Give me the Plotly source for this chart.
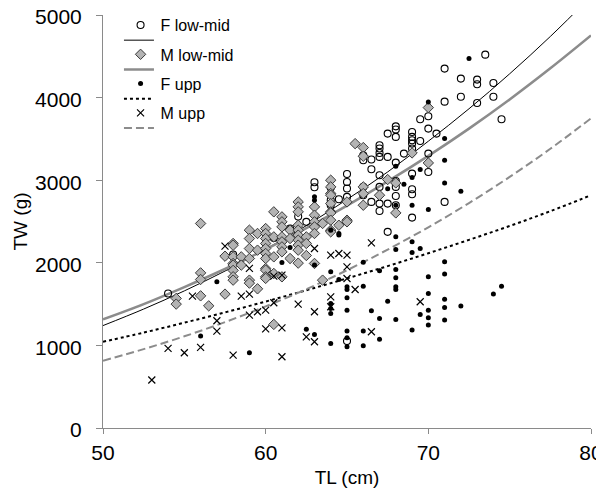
import plotly.graph_objects as go

# ---------------- data ----------------
f_lowmid_tl = [54, 58, 59, 60.5, 61.5, 62, 62.5,
               63, 63, 64, 64, 64, 64.5,
               65, 65, 65, 65, 65,
               66, 66, 66, 66, 66.5, 66.5, 66.5,
               67, 67, 67, 67, 67, 67, 67, 67,
               67.5, 67.5, 67.5, 67.5,
               68, 68, 68, 68, 68, 68, 68, 68, 68.5,
               69, 69, 69, 69, 69, 69, 69, 69, 69,
               69.5, 69.5, 70, 70, 70, 70, 70.5,
               71, 71, 71, 72, 72, 73, 73, 73, 73.5, 74, 74, 74.5]
f_lowmid_tw = [1629, 2100, 1770, 2300, 2415, 2560, 2496,
               2975, 2915, 2758, 2697, 2910, 2770,
               3075, 2979, 2899, 2798, 1052,
               3302, 3241, 2919, 2818, 3250, 3133, 2737,
               3423, 3383, 3330, 3282, 3060, 2919, 2717, 2627,
               3564, 3282, 2717, 2375,
               3652, 3613, 3524, 3213, 2990, 2919, 2808, 2697, 3322,
               3584, 3524, 3483, 3443, 3383, 3080, 2890, 2830, 2547,
               3737, 3475, 3774, 3625, 3322, 3100, 3564,
               4351, 3951, 2737, 4230, 4010, 4218, 4161, 3935, 4520, 4177, 4010, 3737]

m_lowmid_tl = [54.5, 54.5, 56, 56, 56, 56, 56.5, 57.5, 57.5,
               58, 58, 58, 58, 58, 58, 58, 58, 58.5, 58.5,
               59, 59, 59, 59, 59, 59, 59.5, 59.5, 59.5,
               60, 60, 60, 60, 60, 60, 60, 60, 60, 60, 60,
               60.5, 60.5, 60.5, 60.5, 60.5,
               61, 61, 61, 61, 61, 61, 61, 61, 61.5, 61.5, 61.5,
               62, 62, 62, 62, 62, 62, 62, 62, 62, 62,
               62.5, 62.5, 62.5, 63, 63, 63, 63, 63, 63, 63.5, 63.5,
               64, 64, 64, 64, 64, 64, 64, 64, 64, 64, 64.5,
               65, 65, 65, 65.5, 66, 66, 66, 66, 66, 67, 67.5, 68, 68, 69, 70, 70]
m_lowmid_tw = [1569, 1500, 2476, 1878, 1798, 1600, 1479, 2080, 1621,
               2234, 2213, 2072, 1992, 1972, 1908, 1831, 1790, 2072, 1972,
               2395, 2294, 2173, 2052, 1790, 1754, 2355, 2153, 1685,
               2415, 2355, 2294, 2234, 2173, 2113, 2052, 1931, 1911, 1830, 1811,
               2617, 2314, 2072, 1871, 1254,
               2556, 2496, 2435, 2314, 2254, 2193, 2133, 1830, 2395, 2294, 2052,
               2737, 2677, 2617, 2455, 2395, 2335, 2274, 2214, 2153, 1996,
               2314, 2234, 2088, 2677, 2576, 2496, 2435, 2355, 1992, 2476, 1790,
               3000, 2919, 2838, 2818, 2717, 2617, 2604, 2516, 2395, 2375, 2455,
               2737, 2516, 2496, 3443, 3395, 3290, 2919, 2838, 2697, 2818, 3008, 2967, 2604, 3330, 3879, 3209]

f_upp_tl = [56, 57, 59, 61, 61.5, 62.5, 63, 63, 63, 63,
            64, 64, 64, 64, 64, 64, 64.5, 64.5, 64.5,
            65, 65, 65, 65, 65, 65, 65, 66, 66, 66, 66, 66.5,
            67, 67, 67, 67.5, 67.5,
            68, 68, 68, 68, 68, 68, 68, 68, 68, 68.5,
            69, 69, 69, 69, 69, 69.5, 69.5, 69.5,
            70, 70, 70, 70, 70, 70, 70,
            71, 71, 71, 71, 71, 71, 71, 71,
            72, 72, 72.5, 74, 74.5]
f_upp_tw = [1113, 1770, 911, 2004, 2185, 1197, 1133, 2800, 2758, 1972,
            1024, 1508, 1448, 1387, 2395, 1891, 1798, 2355, 2336,
            1173, 1092, 983, 1677, 1576, 1427, 1709, 1173, 995, 1717, 2008, 1419,
            1073, 1327, 1903, 1536, 2896,
            1315, 1919, 1818, 1709, 1677, 2161, 2314, 3169, 2697, 2951,
            1185, 2254, 2125, 3032, 2697, 1375, 2173, 3129,
            1427, 1334, 1246, 1629, 1830, 3947, 2645,
            1560, 1460, 1306, 1863, 2012, 3504, 3241, 2967,
            1476, 2866, 4472, 1621, 1717]

m_upp_tl = [53, 54, 55, 55.5, 56, 57, 57, 57.5, 58, 58.5,
            59, 59, 59, 59.5, 60, 60, 60.5, 60.5, 61, 61, 61,
            62, 62.5, 63, 63, 63, 64, 64, 64, 64.5, 65, 65, 65, 65.5,
            66.5, 66.5, 69.5]
m_upp_tw = [581, 964, 911, 1597, 976, 1298, 1173, 2201, 883, 1597,
            1621, 1367, 1932, 1407, 1427, 1201, 1516, 1838, 863, 1213, 1850,
            1500, 1104, 1407, 1044, 2173, 2092, 1588, 1468, 2113, 2092, 1951, 1810, 1677,
            2241, 1165, 1528]

# fitted curves
curve_tl = [50, 52.5, 55, 57.5, 60, 62.5, 65, 67.5, 70, 72.5, 75, 77.5, 80]
f_lowmid_fit = [1240, 1440, 1660, 1900, 2166, 2450, 2767, 3100, 3472, 3865, 4288, 4740, 5225]
m_lowmid_fit = [1315, 1500, 1706, 1925, 2163, 2420, 2692, 2985, 3295, 3625, 3978, 4355, 4753]
f_upp_fit = [1044, 1155, 1275, 1400, 1531, 1668, 1811, 1960, 2116, 2278, 2446, 2625, 2818]
m_upp_fit = [814, 955, 1110, 1282, 1472, 1680, 1910, 2160, 2430, 2723, 3040, 3380, 3749]

x_ticks = [50, 60, 70, 80]
y_ticks = [0, 1000, 2000, 3000, 4000, 5000]

FONT = "Liberation Sans, Arial, sans-serif"
AXIS_GRAY = "#8a8a8a"

fig = go.Figure()

# fitted lines (legend2, unlabeled rows between the marker rows)
fig.add_trace(go.Scatter(x=curve_tl, y=f_lowmid_fit, mode="lines", name="",
                         line=dict(color="black", width=1, shape="spline"),
                         legend="legend2", legendgroup="l1"))
fig.add_trace(go.Scatter(x=curve_tl, y=m_lowmid_fit, mode="lines", name="",
                         line=dict(color="#8c8c8c", width=2.6, shape="spline"),
                         legend="legend2", legendgroup="l2"))
fig.add_trace(go.Scatter(x=curve_tl, y=f_upp_fit, mode="lines", name="",
                         line=dict(color="black", width=2, dash="dot", shape="spline"),
                         legend="legend2", legendgroup="l3"))
fig.add_trace(go.Scatter(x=curve_tl, y=m_upp_fit, mode="lines", name="",
                         line=dict(color="#8c8c8c", width=2, dash="8px,4px", shape="spline"),
                         legend="legend2", legendgroup="l4"))

# scatter series
fig.add_trace(go.Scatter(x=f_lowmid_tl, y=f_lowmid_tw, mode="markers", name="F low-mid",
                         marker=dict(symbol="circle-open", size=7, color="black",
                                     line=dict(width=1.1, color="black")),
                         legend="legend", legendgroup="m1"))
fig.add_trace(go.Scatter(x=m_lowmid_tl, y=m_lowmid_tw, mode="markers", name="M low-mid",
                         marker=dict(symbol="diamond", size=8, color="#b3b3b3",
                                     line=dict(width=1, color="#3a3a3a")),
                         legend="legend", legendgroup="m2"))
fig.add_trace(go.Scatter(x=f_upp_tl, y=f_upp_tw, mode="markers", name="F upp",
                         marker=dict(symbol="circle", size=5, color="black"),
                         legend="legend", legendgroup="m3"))
fig.add_trace(go.Scatter(x=m_upp_tl, y=m_upp_tw, mode="markers", name="M upp",
                         marker=dict(symbol="x-thin", size=7, color="black",
                                     line=dict(width=1.2, color="black")),
                         legend="legend", legendgroup="m4"))

legend_common = dict(bgcolor="rgba(0,0,0,0)", borderwidth=0,
                     font=dict(family=FONT, size=16, color="black"),
                     xanchor="left", yanchor="top", traceorder="grouped",
                     tracegroupgap=5.5)

# the page shows the figure with an 8px body offset; the figure is sized so the
# plot area lands on the reference's pixels (x 103..591.5, y 14.5..428)
fig.update_layout(
    width=596, height=489,
    margin=dict(l=95, r=12.5, t=6.5, b=69, autoexpand=False),
    paper_bgcolor="white", plot_bgcolor="white",
    font=dict(family=FONT, size=20, color="black"),
    showlegend=True,
    legend=dict(x=0.036, y=1.0167, **legend_common),
    legend2=dict(x=0.0327, y=0.980, **legend_common),
    xaxis=dict(range=[50, 80], tickvals=x_ticks, ticktext=[str(v) for v in x_ticks],
               automargin=False, ticklabeloverflow="allow",
               showgrid=False, zeroline=False, showline=True, linecolor=AXIS_GRAY,
               linewidth=1, ticks="outside", ticklen=5, tickcolor=AXIS_GRAY,
               ticklabelstandoff=1,
               tickfont=dict(family=FONT, size=21, color="black"),
               title=dict(text="TL (cm)", font=dict(family=FONT, size=19, color="black"),
                          standoff=7)),
    yaxis=dict(range=[0, 5000], tickvals=y_ticks, ticktext=[str(v) for v in y_ticks],
               automargin=False, ticklabeloverflow="allow",
               showgrid=False, zeroline=False, showline=True, linecolor=AXIS_GRAY,
               linewidth=1, ticks="outside", ticklen=6, tickcolor=AXIS_GRAY,
               ticklabelstandoff=10, ticklabelshift=2,
               tickfont=dict(family=FONT, size=21, color="black"),
               title=dict(text="TW (g)", font=dict(family=FONT, size=19, color="black"),
                          standoff=2)),
)

fig.write_html("out.html")
